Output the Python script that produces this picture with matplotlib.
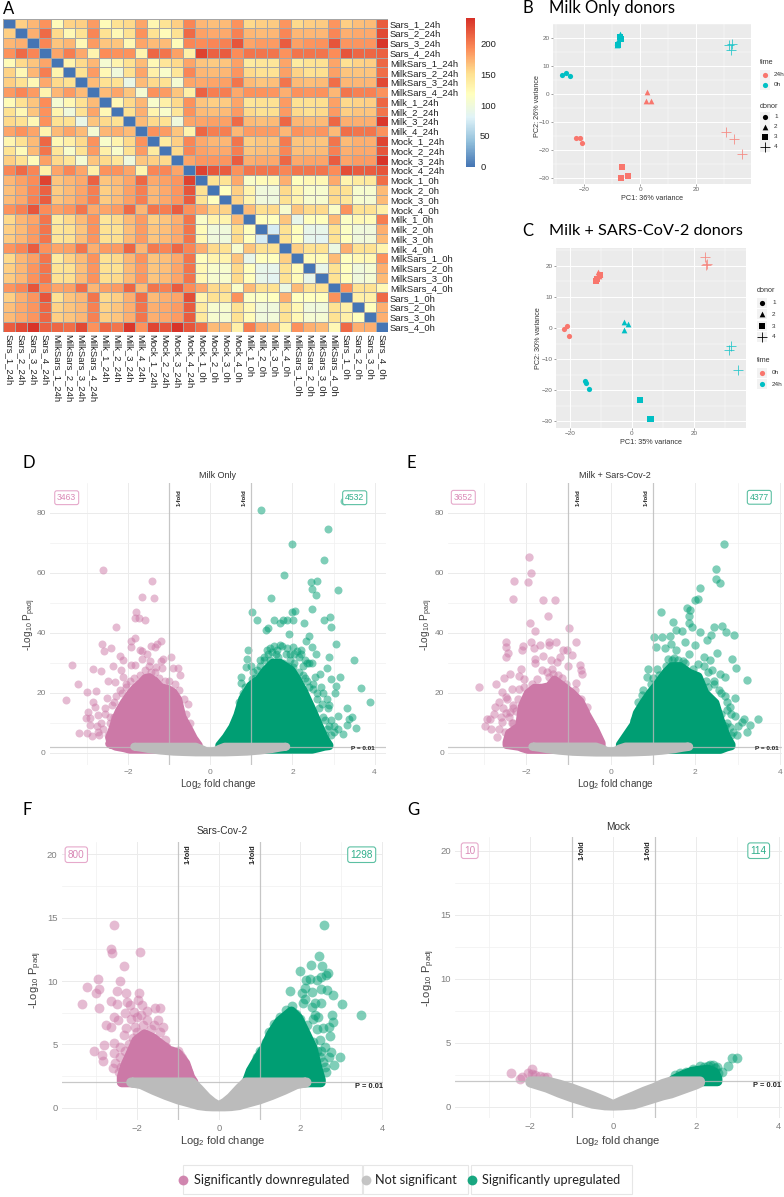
import numpy as np
import matplotlib
matplotlib.use('Agg')
import matplotlib.pyplot as plt
from matplotlib.colors import LinearSegmentedColormap, Normalize
from matplotlib.patches import Rectangle

# ---------- heatmap data ----------
SAMPLES_24 = ['Sars_1_24h','Sars_2_24h','Sars_3_24h','Sars_4_24h','MilkSars_1_24h','MilkSars_2_24h','MilkSars_3_24h','MilkSars_4_24h',
              'Milk_1_24h','Milk_2_24h','Milk_3_24h','Milk_4_24h','Mock_1_24h','Mock_2_24h','Mock_3_24h','Mock_4_24h']
SAMPLES_0 = ['Mock_1_0h','Mock_2_0h','Mock_3_0h','Mock_4_0h','Milk_1_0h','Milk_2_0h','Milk_3_0h','Milk_4_0h',
             'MilkSars_1_0h','MilkSars_2_0h','MilkSars_3_0h','MilkSars_4_0h','Sars_1_0h','Sars_2_0h','Sars_3_0h','Sars_4_0h']
# upper triangles, read row by row
UPPER_24 = [
 [0,160,172,190,122,158,160,185,122,150,155,180,128,148,160,195],
 [0,175,210,155,125,150,195,150,125,150,190,150,122,150,210],
 [0,195,165,172,125,185,165,165,125,180,170,170,122,195],
 [0,180,200,178,130,192,190,190,130,212,205,182,135],
 [0,130,155,172,105,130,150,170,125,145,155,180],
 [0,150,185,125,100,150,180,135,110,145,195],
 [0,170,150,150,92,170,155,150,105,180],
 [0,170,180,165,105,190,185,165,135],
 [0,125,155,172,110,135,155,190],
 [0,150,175,130,110,145,190],
 [0,170,155,150,100,180],
 [0,190,185,165,130],
 [0,140,160,195],
 [0,155,195],
 [0,180],
 [0],
]
CROSS_0_24 = [
 [172,182,192,232,165,172,178,215,165,170,180,212,178,182,188,232],
 [168,178,195,215,162,170,180,200,160,168,182,200,172,178,188,222],
 [170,178,198,218,165,172,182,200,162,170,182,200,172,178,188,218],
 [190,198,222,192,182,188,205,178,180,185,210,172,205,200,218,190],
 [155,172,180,205,140,155,170,190,145,155,170,185,160,165,175,205],
 [160,170,185,205,145,150,165,190,150,150,168,185,165,168,178,205],
 [162,172,185,205,145,150,168,188,150,152,170,185,165,170,178,205],
 [188,195,218,190,180,182,205,175,185,185,212,172,202,195,212,195],
 [155,172,182,205,140,158,170,190,150,155,172,190,165,168,178,205],
 [160,172,188,205,148,150,168,188,150,150,170,185,165,168,180,205],
 [162,172,190,205,150,152,170,190,152,155,170,188,165,170,180,205],
 [188,195,222,192,180,182,208,172,182,185,212,170,205,198,218,192],
 [160,175,188,222,150,165,172,205,155,160,175,208,170,175,180,225],
 [168,178,188,212,158,165,172,198,158,165,175,205,175,178,185,218],
 [170,178,188,212,160,165,172,198,160,165,175,205,175,178,185,218],
 [218,228,240,215,212,208,228,190,212,205,238,190,230,222,240,222],
]
UPPER_0 = [
 [0,150,148,178,112,122,125,175,120,125,125,178,130,140,142,208],
 [0,118,160,130,100,100,155,130,110,108,155,150,108,108,170],
 [0,158,130,100,98,150,130,108,108,155,145,108,105,170],
 [0,170,152,155,108,165,155,155,112,190,150,150,135],
 [0,120,118,165,90,120,120,170,115,125,122,200],
 [0,75,150,120,90,90,150,115,100,100,175],
 [0,150,118,88,85,150,118,100,102,170],
 [0,160,150,150,95,175,150,150,130],
 [0,122,122,170,118,125,125,190],
 [0,90,150,118,100,105,175],
 [0,150,120,100,105,170],
 [0,190,150,150,125],
 [0,135,135,210],
 [0,120,175],
 [0,175],
 [0],
]
HEAT_STOPS = ['#4575B4','#91BFDB','#E0F3F8','#FFFFBF','#FEE090','#FC8D59','#D73027']
HEAT_STOP_VALUES = [0,40,80,118,152,192,242]
HEAT_TICKS = [0,50,100,150,200]

# ---------- PCA data ----------
B_24H = {'1':[(-23.1,-15.5),(-21.5,-15.5),(-20.8,-17.5)],
         '2':[(2.4,0.7),(2.0,-2.3),(3.7,-2.4)],
         '3':[(-6.5,-26.0),(-6.8,-29.9),(-4.4,-29.2)],
         '4':[(30.7,-13.6),(33.6,-16.0),(36.3,-21.4)]}
B_0H = {'1':[(-28.0,7.0),(-26.5,7.6),(-25.1,6.5)],
        '2':[(-7.1,21.5),(-8.4,18.5),(-8.5,17.7)],
        '3':[(-7.2,20.5),(-7.0,19.7),(-8.0,17.6)],
        '4':[(31.5,17.5),(32.8,18.1),(32.4,15.8)]}
C_0H = {'1':[(-21.8,-0.2),(-20.9,0.6),(-20.3,-2.6)],
        '2':[(-10.9,17.9),(-10.4,17.5),(-10.6,16.7)],
        '3':[(-11.4,15.2),(-11.1,15.6),(-10.3,17.0)],
        '4':[(23.3,22.8),(24.2,20.4),(23.7,20.2)]}
C_24H = {'1':[(-15.1,-17.1),(-14.7,-17.8),(-13.9,-19.7)],
         '2':[(-2.6,2.0),(-1.2,1.2),(-2.5,-0.7)],
         '3':[(2.6,-23.1),(5.7,-29.2),(6.0,-29.2)],
         '4':[(31.7,-5.9),(31.0,-7.1),(33.9,-13.5)]}

# ---------- volcano data: scattered genes (x, y) ----------
D_DOWN = [(-2.62,60.8),(-1.41,57.2),(-1.66,51.8),(-1.37,51.6),(-1.80,46.8),(-1.83,44.8),(-1.74,44.8),(-1.59,44.2),(-2.29,41.8),(-1.83,38.4),(-1.94,37.4),(-1.93,35.3),(-1.19,37.4),(-1.29,36.1),(-1.43,35.6),(-1.35,35.3),(-2.64,36.3),(-2.42,35.0),(-2.59,33.8),(-1.71,34.4),(-1.67,34.0),(-0.96,31.9),(-2.19,32.3),(-2.12,30.8),(-1.55,32.9),(-1.65,31.1),(-1.14,31.4),(-1.19,30.7),(-2.36,28.9),(-3.36,29.3),(-1.92,29.2),(-1.83,29.2),(-1.47,30.7),(-1.33,28.7),(-1.17,28.1),(-0.90,28.4),(-0.78,28.4),(-0.74,26.0),(-2.85,27.8),(-2.65,27.1),(-2.18,27.6),(-3.22,22.9),(-2.50,23.8),(-2.31,23.7),(-2.12,25.3),(-3.01,20.4),(-2.77,20.6),(-3.51,17.7),(-2.51,18.4),(-2.86,17.0),(-2.98,13.7),(-2.81,15.1),(-2.57,14.8),(-3.03,11.7),(-2.93,11.7),(-2.73,12.6),(-2.93,9.2),(-3.19,6.6),(-2.99,6.7),(-2.87,5.7),(-2.73,7.0),(-0.55,16.2),(-2.2,21.0),(-2.05,23.0),(-2.35,17.0),(-2.45,12.0),
 (-1.5,29),(-1.35,27),(-1.25,25),(-1.1,24),(-1.0,24),(-0.85,23),(-0.75,21),(-0.65,18),(-1.7,26),(-1.85,25),(-1.95,24),(-2.05,22),(-2.15,20),(-2.3,19),(-2.4,16),(-2.55,13),(-2.65,10),(-2.6,8),(-2.5,6),(-2.7,6),(-2.75,9),(-2.45,10),(-2.35,12),(-0.6,13),(-0.5,10),(-1.6,27.5),(-1.45,27)]
D_UP = [(3.25,84.0),(1.23,81.0),(2.87,74.7),(1.99,69.7),(2.77,64.1),(1.80,59.1),(2.44,56.9),(2.59,57.1),(2.47,54.7),(3.11,54.4),(2.57,52.7),(1.49,51.7),(2.48,47.9),(1.01,46.8),(2.00,46.8),(2.06,47.2),(1.14,44.4),(1.56,44.4),(1.76,44.2),(1.87,44.4),(2.02,44.2),(1.70,43.1),(2.28,43.3),(2.78,44.4),(2.91,45.4),(2.93,41.8),(1.36,40.9),(1.41,41.7),(1.91,39.6),(2.40,39.0),(2.33,37.3),(2.48,35.3),(3.07,36.3),(0.93,34.2),(0.89,31.4),(2.57,32.8),(2.90,31.9),(3.51,30.9),(0.88,28.7),(2.47,29.8),(2.85,28.1),(2.67,26.4),(3.15,25.4),(2.93,24.7),(0.76,25.1),(1.02,24.7),(3.05,22.3),(3.67,21.7),(3.04,19.8),(3.89,17.0),(3.32,15.0),(3.12,12.2),(3.44,11.8),(3.38,11.4),(3.55,8.1),(3.24,6.4),(3.32,9.2),(2.71,16.4),(2.87,14.8),(2.49,21.4),(2.55,25.3),(2.26,28.9),(2.02,28.7),(1.78,29.8),(1.62,34.2),(1.86,34.8),(2.22,34.2),(2.02,35.3),(1.37,34.2),(1.21,30.9),(1.13,27.6),(0.76,23.1),(1.5,33.5),(1.7,36.0),(1.95,31.0),(2.15,32.0),(1.45,31.0),(1.3,32.0),(1.05,27.0),(2.35,30.0),(2.3,25.0),(2.4,22.0),(2.6,18.0),(2.75,12.0),(2.9,9.0),(3.0,7.0),(2.8,6.0),
 (1.2,29),(1.3,31),(1.4,33),(1.45,35),(1.55,35.5),(1.6,33),(1.65,32),(1.75,35.5),(1.85,33),(1.95,33),(2.05,33),(2.1,34),(2.2,33),(2.3,31),(2.4,30),(2.05,30),(1.9,29),(2.15,27),(2.25,26),(2.35,24),(2.5,23),(2.6,20),(2.7,22),(2.75,20),(2.85,18),(2.9,16),(2.65,15),(2.8,11),(2.95,11),(3.0,9),(3.1,8),(2.85,8),(2.7,7),(2.95,6),(0.85,22),(0.8,20),(0.7,17),(1.1,25),(1.0,29)]
E_DOWN = [(-1.93,65.3),(-1.89,59.9),(-2.28,57.1),(-1.96,56.9),(-2.31,51.4),(-1.59,51.0),(-1.31,51.0),(-1.49,45.7),(-1.92,43.3),(-0.98,41.6),(-1.79,40.6),(-2.47,37.0),(-1.89,37.0),(-1.47,37.0),(-1.29,37.0),(-0.83,36.9),(-1.67,35.9),(-1.47,35.9),(-2.08,35.7),(-2.47,35.1),(-2.10,34.1),(-1.81,34.9),(-1.14,34.2),(-1.04,34.2),(-2.44,33.1),(-2.48,32.0),(-0.91,32.7),(-1.60,32.3),(-1.21,31.8),(-1.78,31.1),(-1.78,29.8),(-1.41,30.9),(-1.28,30.2),(-0.73,29.2),(-1.02,28.9),(-0.70,27.6),(-0.69,26.1),(-2.12,28.0),(-1.63,27.6),(-2.37,26.2),(-2.53,25.0),(-2.17,25.7),(-2.04,24.6),(-1.74,24.6),(-2.71,22.9),(-0.82,23.3),(-3.12,22.0),(-2.33,21.3),(-2.17,21.2),(-2.58,20.3),(-2.48,18.7),(-2.63,17.0),(-2.74,15.1),(-2.38,13.7),(-2.93,11.4),(-2.85,11.1),(-2.97,8.9),(-2.82,7.8),(-2.70,5.1),(-2.56,10.3),(-2.34,9.8),(-0.57,15.3),(-2.48,13.1),(-2.30,14.8),(-1.36,26.4),(-1.47,25.3),
 (-1.4,28),(-1.5,27),(-1.25,26),(-1.15,25),(-1.05,23),(-0.85,21),(-0.7,18),(-0.6,14),(-1.85,23),(-2.05,22),(-2.2,18),(-2.3,16),(-2.4,12),(-2.6,12),(-2.65,8),(-2.5,7),(-2.75,13),(-2.55,15),(-2.45,18),(-2.25,14),(-2.3,10)]
E_UP = [(2.67,69.6),(2.49,61.1),(2.49,58.0),(2.57,56.7),(2.10,54.8),(1.99,50.8),(2.07,51.1),(1.18,47.0),(1.81,48.4),(1.88,47.6),(1.85,45.7),(1.86,43.4),(1.47,43.6),(1.92,41.8),(2.63,42.4),(2.44,42.0),(1.55,40.9),(1.68,40.7),(2.10,40.4),(2.73,40.4),(2.37,39.1),(2.91,39.2),(1.03,38.6),(1.21,38.6),(1.39,38.8),(2.27,37.6),(1.76,37.0),(2.00,35.9),(1.07,35.3),(1.42,36.1),(1.29,35.0),(1.55,34.4),(2.51,33.4),(1.86,32.9),(2.86,31.2),(1.36,31.1),(2.21,31.8),(2.35,30.9),(2.96,28.2),(0.89,27.8),(1.09,27.9),(2.39,27.6),(2.59,26.2),(3.21,24.3),(0.85,25.3),(2.70,25.1),(0.77,20.9),(2.93,18.1),(0.73,19.2),(2.81,15.3),(0.65,17.0),(2.94,12.2),(3.47,11.4),(3.14,11.4),(3.28,9.2),(3.10,10.3),(3.22,7.0),(2.98,5.9),(2.82,8.7),(2.74,14.2),(2.45,24.0),(2.3,22.0),(1.5,31.5),(1.7,30.5),(2.05,29.5),(2.6,20.0),(2.75,10.0),
 (1.3,29),(1.45,31),(1.6,31),(1.75,30),(1.95,28),(2.2,29),(2.3,27),(2.45,23),(2.55,21),(2.7,19),(2.75,17),(2.85,13),(2.6,13),(2.7,9),(2.9,7),(3.0,9),(2.85,6),(0.95,23),(1.0,25),(1.15,26),(0.65,14),(0.55,11),(2.25,24)]
F_DOWN = [(-2.58,14.44),(-2.65,12.49),(-2.61,12.25),(-1.93,12.33),(-2.33,11.2),(-2.96,10.17),(-3.24,9.54),(-2.42,9.99),(-2.93,9.35),(-2.50,9.25),(-3.0,9.04),(-2.28,9.04),(-1.95,9.04),(-3.35,8.22),(-2.65,8.41),(-2.50,8.2),(-2.94,7.88),(-2.25,8.38),(-2.17,8.12),(-1.97,8.51),(-1.89,8.12),(-1.56,7.91),(-1.44,7.91),(-2.29,7.46),(-2.09,7.59),(-2.56,7.14),(-2.48,6.93),(-2.77,6.51),(-2.64,6.4),(-2.27,6.27),(-2.33,5.74),(-1.36,6.4),(-2.58,5.14),(-2.81,4.95),(-3.05,4.48),(-2.87,4.16),(-2.85,3.69),(-2.58,4.3),(-2.54,3.5),(-2.60,3.11),(-2.42,4.82),(-1.76,6.93),(-1.60,6.53),(-2.01,7.19),(-2.05,6.4),(-1.31,5.35),(-0.91,3.9),(-0.85,3.24),(-2.42,4.03),(-1.75,7.6),(-1.9,7.3),(-1.5,6.9),(-1.45,6.0),(-2.15,7.0),(-2.0,6.0),
 (-2.1,5.5),(-2.2,5),(-2.3,4.5),(-2.25,3.5),(-1.85,6.5),(-1.65,6.2),(-1.3,4.8),(-1.15,4.5),(-1.0,4.5),(-0.95,4.2),(-0.8,3.2),(-0.75,2.8),(-2.4,3.2),(-2.45,2.8)]
F_UP = [(2.57,14.44),(2.45,11.99),(2.25,11.23),(2.52,11.2),(1.98,10.78),(2.67,10.62),(2.63,10.49),(2.5,10.3),(2.24,10.14),(2.13,10.09),(2.4,10.09),(2.11,9.43),(1.75,9.25),(2.28,9.17),(2.5,9.35),(2.64,9.3),(2.04,9.04),(2.8,8.88),(2.36,8.3),(2.51,8.25),(2.07,8.25),(3.01,8.22),(3.49,7.3),(2.77,7.33),(2.44,7.19),(2.79,6.8),(2.69,6.4),(2.73,5.67),(1.36,6.61),(1.24,5.96),(2.75,4.43),(2.96,4.03),(2.69,4.03),(2.81,3.37),(2.63,2.85),(0.93,4.03),(0.89,3.37),(2.28,7.98),(2.48,5.35),(2.48,4.03),(2.1,8.6),(2.35,7.3),(2.55,6.3),(2.4,6.2),(2.6,4.8),(2.3,7.0),
 (0.8,3),(1.0,4.5),(1.15,5.2),(1.3,6),(1.5,7.2),(1.65,7.7),(1.8,8),(1.9,7.4),(2.0,7.0),(2.15,6.5),(2.3,5.2),(2.4,4.5),(2.55,3.6),(2.6,3.2),(2.5,4.5)]
G_DOWN = [(-2.47,2.65),(-2.24,2.21),(-1.97,2.94),(-2.05,2.68),(-1.88,2.5),(-1.76,2.42),(-1.59,2.31),(-2.21,2.37),(-1.95,2.6),(-1.68,2.3)]
G_UP = [(3.0,3.82),(2.87,3.8),(2.78,3.2),(2.46,2.24),(2.62,2.76),(2.5,3.15),(2.42,3.28),(2.29,3.22),(2.09,3.2),(1.93,2.94),(1.77,2.76),(1.61,2.63),(1.49,2.5),(2.21,2.89),(2.38,2.76),(2.54,2.63),(2.09,2.76),(1.85,2.57),(2.29,2.5),(2.42,2.63),(2.46,3.02),(2.35,3.3),(2.2,3.1)]

# dense clouds, as outlines of the mass: (x, top, bottom)
D_DOWN_CLOUD = [(-2.42,3.0,2.6),(-2.46,5.0,3.0),(-2.38,8.0,2.5),(-2.30,11.5,2.0),(-2.22,14.0,1.8),(-2.10,16.8,1.5),(-1.96,19.5,1.0),(-1.84,21.5,1.0),(-1.70,23.2,1.0),(-1.58,24.9,1.0),(-1.48,25.2,1.0),(-1.35,24.0,1.0),(-1.20,21.8,1.0),(-1.02,21.2,1.0),(-0.90,20.2,1.0),(-0.78,17.8,1.0),(-0.68,12.0,1.0),(-0.52,8.0,1.5),(-0.40,4.8,2.0),(-0.28,2.5,2.0)]
D_UP_CLOUD = [(0.22,2.5,2.0),(0.38,5.2,2.0),(0.54,8.6,1.5),(0.66,12.5,1.0),(0.78,18.0,1.0),(0.98,22.5,1.0),(1.18,24.5,1.0),(1.34,27.5,1.0),(1.52,30.0,1.0),(1.70,30.0,1.0),(1.98,27.5,1.0),(2.12,24.5,1.0),(2.28,20.5,1.0),(2.48,14.5,1.0),(2.64,9.5,1.5),(2.78,5.0,2.0),(2.90,2.5,2.2)]
E_DOWN_CLOUD = [(-2.46,3.5,2.6),(-2.40,6.5,2.5),(-2.16,8.8,2.0),(-2.10,15.4,1.6),(-1.96,19.8,1.0),(-1.80,21.6,1.0),(-1.62,21.6,1.0),(-1.46,22.1,1.0),(-1.33,24.3,1.0),(-1.12,22.1,1.0),(-0.92,19.9,1.0),(-0.72,17.1,1.0),(-0.57,12.7,1.0),(-0.37,7.7,1.5),(-0.22,3.2,2.0)]
E_UP_CLOUD = [(0.22,2.7,2.0),(0.38,6.0,2.0),(0.54,9.3,1.5),(0.62,13.2,1.0),(0.77,16.6,1.0),(0.93,19.9,1.0),(1.09,22.7,1.0),(1.29,26.6,1.0),(1.44,28.8,1.0),(1.64,28.8,1.0),(1.86,26.6,1.0),(2.07,25.4,1.0),(2.23,19.9,1.0),(2.47,16.6,1.0),(2.59,11.0,1.0),(2.74,5.4,1.8),(2.85,2.7,2.2)]
F_DOWN_CLOUD = [(-2.38,2.4,2.0),(-2.30,3.3,2.0),(-2.13,4.5,2.0),(-2.02,5.3,2.0),(-1.82,5.8,2.0),(-1.62,5.5,2.0),(-1.42,5.0,2.0),(-1.22,4.5,2.0),(-1.02,4.3,2.0),(-0.82,3.5,2.0),(-0.70,2.4,2.0),(-0.62,2.0,2.0)]
F_UP_CLOUD = [(0.68,2.0,2.0),(0.78,2.9,2.0),(0.98,4.0,2.0),(1.12,4.7,2.0),(1.28,5.8,2.0),(1.48,6.8,2.0),(1.78,7.6,2.0),(1.94,7.1,2.0),(2.14,5.8,2.0),(2.30,4.7,2.0),(2.42,3.1,2.0),(2.50,2.2,2.0)]
G_UP_CLOUD = [(1.45,2.1,2.0),(1.7,2.5,2.0),(1.9,2.75,2.0),(2.1,2.85,2.0),(2.3,2.9,2.0),(2.45,2.7,2.0),(2.52,2.2,2.0)]
D_NS = [(-1.85,2.0,2.0),(-1.7,2.0,1.7),(-1.5,2.0,1.2),(-1.2,2.0,0.7),(-0.9,2.0,0.35),(-0.6,2.0,0.2),(-0.35,2.0,0.1),(-0.22,1.3,0.1),(-0.1,0.5,0.1),(0.0,0.3,0.1),(0.1,0.5,0.1),(0.22,1.3,0.1),(0.35,2.0,0.1),(0.6,2.0,0.2),(0.9,2.0,0.35),(1.2,2.0,0.7),(1.5,2.0,1.2),(1.7,2.0,1.7),(1.85,2.0,2.0)]
E_NS = [(-1.85,2.0,2.0),(-1.7,2.0,1.7),(-1.5,2.0,1.2),(-1.2,2.0,0.7),(-0.9,2.0,0.35),(-0.6,2.0,0.2),(-0.35,2.0,0.1),(-0.2,1.3,0.1),(-0.1,0.5,0.1),(0.0,0.3,0.1),(0.1,0.5,0.1),(0.2,1.3,0.1),(0.35,2.0,0.1),(0.6,2.0,0.2),(0.9,2.0,0.35),(1.2,2.0,0.7),(1.5,2.0,1.2),(1.7,2.0,1.7),(1.85,2.0,2.0)]
F_NS = [(-2.15,2.0,2.0),(-1.9,2.0,1.85),(-1.6,2.0,1.4),(-1.3,2.0,1.0),(-1.0,2.0,0.65),(-0.66,2.0,0.35),(-0.5,1.5,0.2),(-0.3,0.8,0.12),(-0.15,0.4,0.1),(0.0,0.12,0.1),(0.15,0.4,0.1),(0.3,0.8,0.12),(0.5,1.5,0.2),(0.66,2.0,0.35),(1.0,2.0,0.65),(1.3,2.0,1.0),(1.6,2.0,1.4),(1.9,2.0,1.85),(2.15,2.0,2.0)]
G_NS = [(-2.0,2.0,1.9),(-1.8,2.0,1.7),(-1.6,2.0,1.5),(-1.3,1.75,1.1),(-1.0,1.45,0.75),(-0.75,1.15,0.5),(-0.5,0.85,0.25),(-0.2,0.45,0.12),(0.0,0.15,0.1),(0.2,0.45,0.12),(0.5,0.85,0.2),(0.75,1.2,0.45),(1.0,1.5,0.7),(1.2,1.8,0.9),(1.4,2.0,1.05),(1.7,2.0,1.4),(2.0,2.0,1.75),(2.1,2.0,1.9)]

VOLCANO_COUNTS = {'D':(3463,4532),'E':(3652,4377),'F':(800,1298),'G':(10,114)}
VOLCANO_TITLES = {'D':'Milk Only','E':'Milk + Sars-Cov-2','F':'Sars-Cov-2','G':'Mock'}
LEGEND_LABELS = ['Significantly downregulated','Not significant','Significantly upregulated']
P_CUT = 2
FOLD_CUT = 1

# ---------- style ----------
W, H = 784, 1197
DPI = 100
plt.rcParams['font.family'] = ['Liberation Sans','DejaVu Sans']
plt.rcParams['mathtext.fontset'] = 'custom'
plt.rcParams['mathtext.rm'] = 'Liberation Sans'
plt.rcParams['mathtext.default'] = 'regular'
PINK, GREEN, GREY = '#CC79A7', '#009E73', '#BBBBBB'
RED_GG, TEAL_GG = '#F8766D', '#00BFC4'
CAL = ['Lato','DejaVu Sans']

fig = plt.figure(figsize=(W/DPI, H/DPI), dpi=DPI)
def axpx(l, t, r, b):
    return fig.add_axes([l/W, 1-b/H, (r-l)/W, (b-t)/H])
def ftext(x, y, s, **kw):
    kw.setdefault('ha','left'); kw.setdefault('va','center')
    return fig.text(x/W, 1-y/H, s, **kw)

# ---------- panel A ----------
n = 32
mat = np.zeros((n, n))
for i, row in enumerate(UPPER_24):
    for j, v in enumerate(row):
        mat[i, i+j] = mat[i+j, i] = v
for i, row in enumerate(CROSS_0_24):
    for j, v in enumerate(row):
        mat[16+i, j] = mat[j, 16+i] = v
for i, row in enumerate(UPPER_0):
    for j, v in enumerate(row):
        mat[16+i, 16+i+j] = mat[16+i+j, 16+i] = v
labels = SAMPLES_24 + SAMPLES_0
cmap = LinearSegmentedColormap.from_list('rdylbu', [(v/242, c) for v, c in zip(HEAT_STOP_VALUES, HEAT_STOPS)], N=256)
norm = Normalize(0, 242)
ax = axpx(2.5, 18.5, 387.7, 331.5)
mesh = ax.pcolormesh(np.arange(n+1), np.arange(n+1), mat, cmap=cmap, norm=norm, edgecolors='#A6A6A6', linewidth=0.7)
ax.set_xlim(0, n); ax.set_ylim(n, 0)
ax.set_xticks(np.arange(n)+.5); ax.set_xticklabels(labels, rotation=270, fontsize=6.8, color='#222222')
ax.set_yticks(np.arange(n)+.5); ax.set_yticklabels(labels, fontsize=6.8, color='#222222')
ax.yaxis.tick_right()
ax.tick_params(length=0, pad=1.5)
for s in ax.spines.values():
    s.set_visible(False)
cax = axpx(466, 18, 475.3, 166.7)
cb = fig.colorbar(mesh, cax=cax, ticks=HEAT_TICKS)
cb.outline.set_visible(False)
cax.tick_params(length=0, labelsize=6.8, pad=3.5, labelcolor='#222222')

# ---------- panels B, C ----------
MARK = {'1':('o',14,0),'2':('^',17,0),'3':('s',15,0),'4':('+',42,0.6)}
def pca(rect, xlim, ylim, series, xl, yl, xlab_y, ylab_x, ylab_y):
    l,t,r,b = rect
    ax = axpx(l,t,r,b)
    ax.set_facecolor('#EBEBEB')
    for s in ax.spines.values():
        s.set_visible(False)
    ax.set_xticks([-20,0,20]); ax.set_yticks([-30,-20,-10,0,10,20])
    ax.set_xticks([-30,-10,10,30], minor=True); ax.set_yticks([-25,-15,-5,5,15,25], minor=True)
    ax.grid(which='major', color='white', lw=0.7); ax.grid(which='minor', color='white', lw=0.35)
    ax.set_axisbelow(True)
    ax.tick_params(which='major', labelsize=4.6, length=1.5, width=0.4, color='#555555', labelcolor='#666666', pad=1)
    ax.tick_params(which='minor', length=0)
    for col, d in series:
        for k, pts in d.items():
            m, s, lw = MARK[k]
            xs, ys = zip(*pts)
            if m == '+':
                ax.scatter(xs, ys, marker=m, s=s, c=col, linewidths=lw, alpha=0.8)
            else:
                ax.scatter(xs, ys, marker=m, s=s, c=col, linewidths=0)
    ax.set_xlim(*xlim); ax.set_ylim(*ylim)
    ax.set_xlabel(xl, fontsize=5.2, color='#333333')
    ax.xaxis.set_label_coords(0.5, (b-xlab_y)/(b-t)); ax.xaxis.label.set_va('center')
    ax.set_ylabel(yl, fontsize=5.2, color='#333333')
    ax.yaxis.set_label_coords((ylab_x-l)/(r-l), (b-ylab_y)/(b-t)); ax.yaxis.label.set_va('center')
    return ax

pca((553.3,24,750.7,184),(-31.07,39.4),(-32,25.1),[(RED_GG,B_24H),(TEAL_GG,B_0H)],'PC1: 36% variance','PC2: 26% variance',199,537.5,106)
pca((556,248.3,745.7,427.7),(-24.4,36.5),(-32,25.6),[(RED_GG,C_0H),(TEAL_GG,C_24H)],'PC1: 35% variance','PC2: 30% variance',442,539,338)

def pca_legend(x, xt, title, y0, rows):
    ftext(x-5.5, y0, title, fontsize=5.2, color='#333333')
    for y, lab, col, key in rows:
        a = fig.add_axes([(x-5)/W, 1-(y+5)/H, 10/W, 10/H])
        a.set_facecolor('#F2F2F2'); a.set_xticks([]); a.set_yticks([])
        for sp in a.spines.values():
            sp.set_visible(False)
        a.set_xlim(-1,1); a.set_ylim(-1,1)
        m, s, lw = MARK[key]
        a.scatter([0],[0], marker=m, s=s, c=col, linewidths=lw)
        ftext(xt, y, lab, fontsize=4.6, color='#333333')
pca_legend(765, 774, 'time', 63, [(75,'24h',RED_GG,'1'),(85,'0h',TEAL_GG,'1')])
pca_legend(765, 774, 'donor', 106, [(117,'1','black','1'),(127,'2','black','2'),(137,'3','black','3'),(147,'4','black','4')])
pca_legend(762, 772, 'donor', 291, [(303,'1','black','1'),(314,'2','black','2'),(326,'3','black','3'),(337,'4','black','4')])
pca_legend(762, 772, 'time', 361, [(373,'0h',RED_GG,'1'),(384,'24h',TEAL_GG,'1')])

# ---------- volcanoes ----------
def cloud(ax, pts, col, s, z):
    # polygon through the outline, widened by one marker radius with round joins
    xs = [p[0] for p in pts]; top = [p[1] for p in pts]; bot = [p[2] for p in pts]
    ax.fill(xs + xs[::-1], top + bot[::-1], fc=col, ec=col, lw=np.sqrt(s), joinstyle='round', zorder=z)

def volcano(key, rect, xlim, ylim, yt, ymt, down, up, dc, uc, ns, s, fs, P):
    l,t,r,b = rect
    ax = axpx(l,t,r,b)
    for sp in ax.spines.values():
        sp.set_visible(False)
    ax.set_xticks([-2,0,2,4]); ax.set_yticks(yt)
    ax.set_xticks([-3,-1,1,3], minor=True); ax.set_yticks(ymt, minor=True)
    ax.grid(which='major', color='#EBEBEB', lw=0.7); ax.grid(which='minor', color='#F0F0F0', lw=0.5)
    ax.set_axisbelow(True)
    ax.tick_params(which='both', length=0)
    ax.tick_params(which='major', labelsize=fs, labelcolor='#7F7F7F', pad=3)
    if dc: cloud(ax, dc, PINK, s, 2)
    if uc: cloud(ax, uc, GREEN, s, 2)
    for pts, col in ((down, PINK), (up, GREEN)):
        xs, ys = zip(*pts)
        ax.scatter(xs, ys, s=s, c=col, alpha=0.5, linewidths=0, zorder=3)
    cloud(ax, ns, GREY, s, 4)
    ax.axhline(P_CUT, color='#BBBBBB', lw=0.9, alpha=0.8, zorder=5)
    ax.axvline(-FOLD_CUT, color='#BBBBBB', lw=0.9, alpha=0.8, zorder=5)
    ax.axvline(FOLD_CUT, color='#BBBBBB', lw=0.9, alpha=0.8, zorder=5)
    ax.set_xlim(*xlim); ax.set_ylim(*ylim)
    ax.set_title(VOLCANO_TITLES[key], fontsize=fs+0.5, color='#333333', x=(P['title'][0]-l)/(r-l), y=(b-P['title'][1])/(b-t), va='center', pad=0)
    ax.set_xlabel('Log$_2$ fold change', fontsize=fs+1.2, color='#404040')
    ax.xaxis.set_label_coords((P['xlab'][0]-l)/(r-l), (b-P['xlab'][1])/(b-t)); ax.xaxis.label.set_va('center')
    ax.set_ylabel('-Log$_{10}$ P$_{padj}$', fontsize=fs+1.2, color='#404040')
    ax.yaxis.set_label_coords((P['ylab'][0]-l)/(r-l), (b-P['ylab'][1])/(b-t)); ax.yaxis.label.set_va('center')
    for x, in ((P['f1'],),(P['f2'],)):
        ftext(x, P['fy'], '1-fold', rotation=90, fontsize=fs-1.6, fontweight='bold', color='#222222', ha='center')
    ftext(P['p'][0], P['p'][1], 'P = 0.01', fontsize=fs-1.4, fontweight='bold', color='#222222', ha='center')
    for (x, y), v, ec, tc in ((P['b1'], VOLCANO_COUNTS[key][0], '#E6A9CB', '#D989B6'), (P['b2'], VOLCANO_COUNTS[key][1], '#5CC0A3', '#2FAE8A')):
        ftext(x, y, str(v), fontsize=P['bf'], color=tc, ha='center', zorder=10,
              bbox=dict(boxstyle='round,pad=0.28,rounding_size=0.25', fc='white', ec=ec, lw=0.8))

volcano('D',(50,483,385.7,765),(-3.9,4.27),(-4.1,89.9),[0,20,40,60,80],[10,30,50,70],D_DOWN,D_UP,D_DOWN_CLOUD,D_UP_CLOUD,D_NS,33,6,
        dict(title=(218,476),xlab=(218,784),ylab=(30,625),f1=179,f2=244.3,fy=497.5,p=(362.7,748),b1=(66.7,497.7),b2=(354.7,497.7),bf=6.2))
volcano('E',(448.3,483,781.7,765),(-3.84,4.04),(-4.1,89.9),[0,20,40,60,80],[10,30,50,70],E_DOWN,E_UP,E_DOWN_CLOUD,E_UP_CLOUD,E_NS,36,6,
        dict(title=(615,476),xlab=(615.5,784),ylab=(427,625),f1=578.3,f2=646,fy=497.5,p=(767.3,748.3),b1=(463.3,497.3),b2=(759.3,497.3),bf=6.2))
volcano('F',(61.7,841.7,383.3,1120),(-3.85,4.03),(-0.97,21),[0,5,10,15,20],[2.5,7.5,12.5,17.5],F_DOWN,F_UP,F_DOWN_CLOUD,F_UP_CLOUD,F_NS,50,6.8,
        dict(title=(222.3,831),xlab=(223,1141),ylab=(36,980),f1=188,f2=252.7,fy=854,p=(369.3,1086.7),b1=(76.3,854.7),b2=(361.7,854.7),bf=7.2))
volcano('G',(455,837,781.7,1118),(-3.82,4.07),(-0.86,21.06),[0,5,10,15,20],[2.5,7.5,12.5,17.5],G_DOWN,G_UP,None,G_UP_CLOUD,G_NS,50,6.8,
        dict(title=(618,827),xlab=(618,1141),ylab=(429,978),f1=582.3,f2=648,fy=850,p=(766.7,1085.7),b1=(469.7,850.7),b2=(758.7,850.7),bf=7.2))

# ---------- panel letters and titles ----------
for x, y, s, fs in ((3,9,'A',12),(522,8,'B',12),(522,231,'C',12),(22,463,'D',12),(407,463,'E',12),(22,810,'F',12),(407,810,'G',12)):
    ftext(x, y, s, fontsize=fs, family=CAL)
ftext(549, 8, 'Milk Only donors', fontsize=12, family=CAL)
ftext(549, 231, 'Milk + SARS-CoV-2 donors', fontsize=11.7, family=CAL)

# ---------- shared legend ----------
for (x0, x1) in ((183,361.7),(363,468),(470.7,632)):
    fig.add_artist(Rectangle((x0/W, 1-1194/H), (x1-x0)/W, 29/H, transform=fig.transFigure, fc='white', ec='#E6E6E6', lw=0.8, zorder=0.5))
lg = axpx(0, 1165, W, 1194); lg.axis('off'); lg.set_xlim(0, W); lg.set_ylim(1, 0); lg.set_zorder(6)
for cx, col in ((183.3,PINK),(365.7,'#BEBEBE'),(471.7,GREEN)):
    lg.scatter([cx],[0.5], s=50, c=col, alpha=0.9, linewidths=0)
for x, lab in zip((194,375,481.7), LEGEND_LABELS):
    ftext(x, 1180, lab, fontsize=9.15, family=CAL, color='#222222')

fig.savefig('out.png', dpi=DPI)
